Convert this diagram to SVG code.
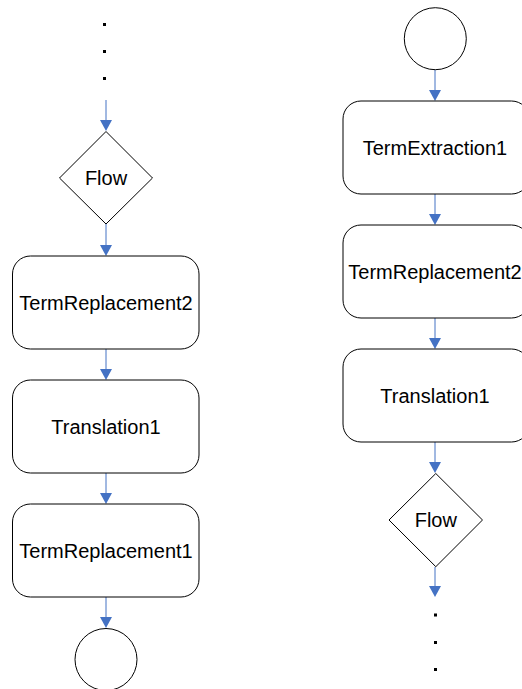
<svg xmlns="http://www.w3.org/2000/svg" width="522" height="689" viewBox="0 0 522 689">
  <style>
    .box { fill: #ffffff; stroke: #000000; stroke-width: 1; }
    .lbl { font-family: "Liberation Sans", Arial, sans-serif; font-size: 20px; fill: #000000; text-anchor: middle; }
    .line { stroke: #4472C4; stroke-width: 1; fill: none; }
    .head { fill: #4472C4; }
    .dot { fill: #000000; }
  </style>
  <rect width="522" height="689" fill="#ffffff"/>

  <!-- connectors: a thin blue line plus a filled triangular head -->
  <g id="connectors">
    <!-- left column -->
    <path class="line" d="M106,100 V120"/>
    <polygon class="head" points="100,120 112,120 106,131"/>
    <path class="line" d="M106,224 V245"/>
    <polygon class="head" points="100,245 112,245 106,256"/>
    <path class="line" d="M106,349 V369"/>
    <polygon class="head" points="100,369 112,369 106,380"/>
    <path class="line" d="M106,473 V493"/>
    <polygon class="head" points="100,493 112,493 106,504"/>
    <path class="line" d="M106,597 V617"/>
    <polygon class="head" points="100,617 112,617 106,628"/>
    <!-- right column -->
    <path class="line" d="M435,70 V90"/>
    <polygon class="head" points="429,90 441,90 435,101"/>
    <path class="line" d="M435,194 V214"/>
    <polygon class="head" points="429,214 441,214 435,225"/>
    <path class="line" d="M435,318 V338"/>
    <polygon class="head" points="429,338 441,338 435,349"/>
    <path class="line" d="M435,442 V462"/>
    <polygon class="head" points="429,462 441,462 435,473"/>
    <path class="line" d="M435,567 V586"/>
    <polygon class="head" points="429,586 441,586 435,597"/>
  </g>

  <!-- left column -->
  <g id="left-dots">
    <rect class="dot" x="103" y="23" width="3" height="3"/>
    <rect class="dot" x="103" y="50" width="3" height="3"/>
    <rect class="dot" x="103" y="77" width="3" height="3"/>
  </g>
  <g id="left-flow">
    <polygon class="box" points="106,131.5 152.5,178 106,224 59.5,178"/>
    <text class="lbl" x="106" y="185">Flow</text>
  </g>
  <g id="left-termreplacement2">
    <rect class="box" x="12.5" y="256" width="186.5" height="93" rx="18" ry="18"/>
    <text class="lbl" x="106" y="310">TermReplacement2</text>
  </g>
  <g id="left-translation1">
    <rect class="box" x="12.5" y="380" width="186.5" height="93" rx="18" ry="18"/>
    <text class="lbl" x="106" y="434">Translation1</text>
  </g>
  <g id="left-termreplacement1">
    <rect class="box" x="12.5" y="504" width="186.5" height="93" rx="18" ry="18"/>
    <text class="lbl" x="106" y="558">TermReplacement1</text>
  </g>
  <g id="left-end">
    <circle class="box" cx="106" cy="659.5" r="31"/>
  </g>

  <!-- right column -->
  <g id="right-start">
    <circle class="box" cx="435.3" cy="38.7" r="31"/>
  </g>
  <g id="right-termextraction1">
    <rect class="box" x="343" y="101" width="186.5" height="93" rx="18" ry="18"/>
    <text class="lbl" x="435" y="155">TermExtraction1</text>
  </g>
  <g id="right-termreplacement2">
    <rect class="box" x="343" y="225" width="186.5" height="93" rx="18" ry="18"/>
    <text class="lbl" x="435" y="279">TermReplacement2</text>
  </g>
  <g id="right-translation1">
    <rect class="box" x="343" y="349" width="186.5" height="93" rx="18" ry="18"/>
    <text class="lbl" x="435" y="403">Translation1</text>
  </g>
  <g id="right-flow">
    <polygon class="box" points="435.8,473.5 482.5,520 435.8,566.7 389,520"/>
    <text class="lbl" x="435.8" y="527">Flow</text>
  </g>
  <g id="right-dots">
    <rect class="dot" x="434" y="613.5" width="3" height="3"/>
    <rect class="dot" x="434" y="641" width="3" height="3"/>
    <rect class="dot" x="434" y="668" width="3" height="3"/>
  </g>
</svg>
